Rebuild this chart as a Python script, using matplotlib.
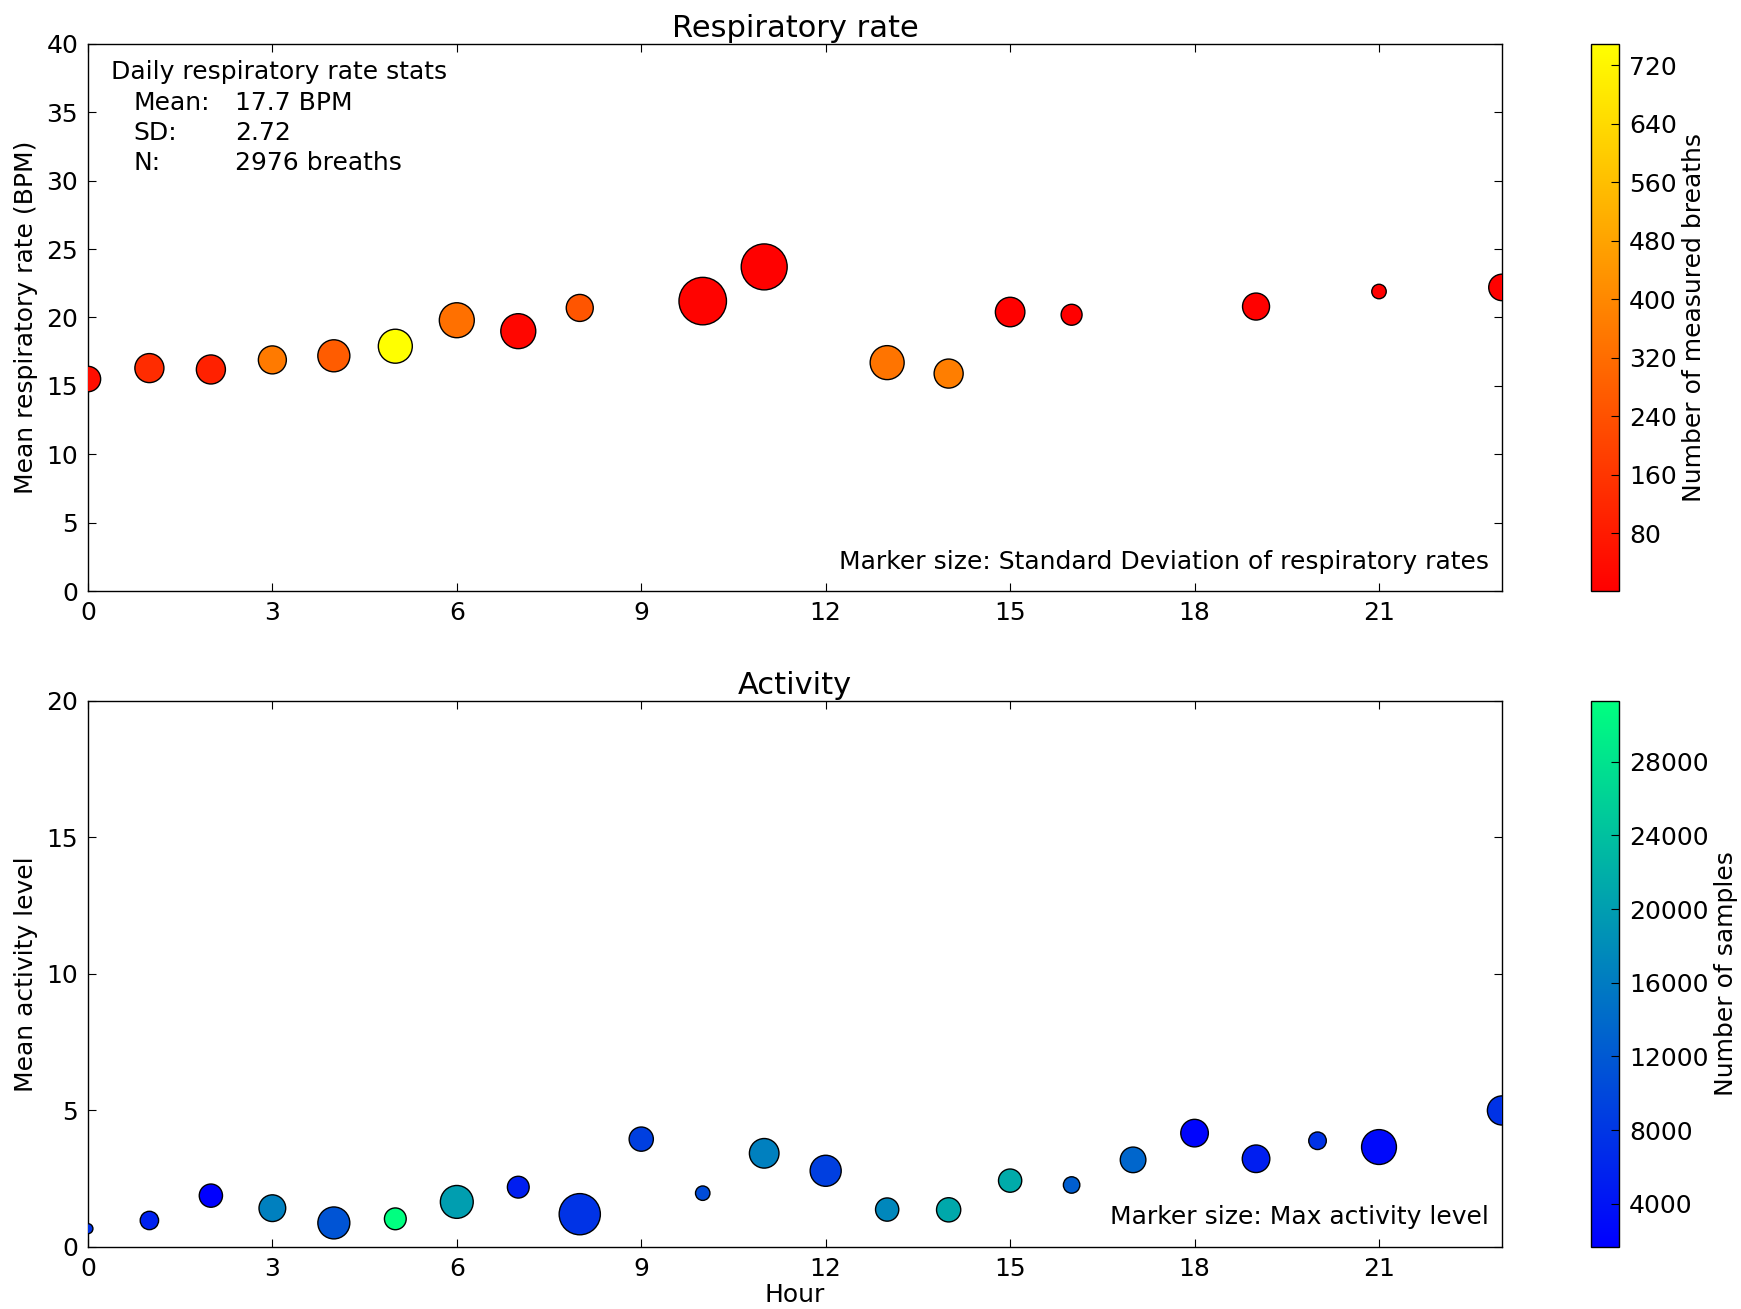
import matplotlib
matplotlib.use("Agg")
import matplotlib.pyplot as plt
import numpy as np

# ---------------- data ----------------
resp_hours = [0, 1, 2, 3, 4, 5, 6, 7, 8, 10, 11, 13, 14, 15, 16, 19, 21, 23]
resp_mean = [15.5, 16.3, 16.2, 16.9, 17.2, 17.9, 19.8, 19.0, 20.7, 21.2, 23.7,
             16.7, 15.9, 20.4, 20.2, 20.8, 21.9, 22.2]
resp_sd = [0.96, 1.25, 1.25, 1.16, 1.52, 1.71, 1.81, 1.81, 1.08, 3.34, 3.13,
           1.71, 1.25, 1.29, 0.65, 1.08, 0.31, 1.04]
resp_count = [40, 130, 100, 360, 270, 749, 330, 20, 250, 10, 5,
              340, 370, 5, 3, 5, 1, 5]

act_hours = [0, 1, 2, 3, 4, 5, 6, 7, 8, 9, 10, 11, 12, 13, 14, 15, 16, 17,
             18, 19, 20, 21, 23]
act_mean = [0.67, 0.97, 1.88, 1.42, 0.88, 1.03, 1.65, 2.19, 1.20, 3.95, 1.97,
            3.43, 2.79, 1.37, 1.36, 2.43, 2.27, 3.19, 4.17, 3.23, 3.89, 3.66, 5.0]
act_max = [2.6, 8.75, 14.0, 18.5, 26.5, 12.3, 28.0, 12.3, 44.0, 15.2, 5.4,
           22.7, 25.0, 14.0, 15.2, 14.0, 7.0, 17.0, 19.7, 19.7, 8.0, 31.5, 22.0]
act_count = [7500, 5500, 1650, 16500, 11400, 31300, 20000, 5200, 7600, 9000,
             10500, 16500, 9000, 17400, 21200, 21500, 12600, 13500, 2200, 5200,
             7500, 2800, 7500]

resp_cbar_ticks = [80, 160, 240, 320, 400, 480, 560, 640, 720]
act_cbar_ticks = [4000, 8000, 12000, 16000, 20000, 24000, 28000]
hour_ticks = [0, 3, 6, 9, 12, 15, 18, 21]

RESP_SIZE_SCALE = 350.0
ACT_SIZE_SCALE = 20.0

FS = 18

# ---------------- style ----------------
plt.rcParams.update({
    "font.family": ["DejaVu Sans"],
    "font.size": FS,
    "xtick.direction": "in",
    "ytick.direction": "in",
    "xtick.top": True,
    "ytick.right": True,
    "xtick.major.size": 6,
    "ytick.major.size": 6,
    "xtick.major.pad": 7,
    "ytick.major.pad": 7,
    "axes.linewidth": 1.0,
})

fig = plt.figure(figsize=(17.41, 13.09), dpi=100)

ax1 = fig.add_axes([0.0505, 0.5485, 0.8122, 0.4179])
cax1 = fig.add_axes([0.9139, 0.5485, 0.0161, 0.4179])
ax2 = fig.add_axes([0.0505, 0.0474, 0.8122, 0.4171])
cax2 = fig.add_axes([0.9139, 0.0474, 0.0161, 0.4171])

# top: respiratory rate
sc1 = ax1.scatter(resp_hours, resp_mean,
                  s=np.array(resp_sd) * RESP_SIZE_SCALE,
                  c=resp_count, cmap="autumn",
                  vmin=min(resp_count), vmax=max(resp_count),
                  edgecolors="black", linewidths=1.0, zorder=3)
ax1.set_xlim(0, 23)
ax1.set_ylim(0, 40)
ax1.set_xticks(hour_ticks)
ax1.set_yticks(range(0, 41, 5))
ax1.set_title("Respiratory rate", fontsize=22, pad=5)
ax1.set_ylabel("Mean respiratory rate (BPM)", labelpad=6)

ax1.text(0.016, 0.949, "Daily respiratory rate stats", transform=ax1.transAxes,
         ha="left", va="center", fontsize=FS)
rows = [("Mean:", "17.7 BPM"), ("SD:", "2.72"), ("N:", "2976 breaths")]
for i, (lab, val) in enumerate(rows):
    yy = 0.893 - i * 0.0555
    ax1.text(0.032, yy, lab, transform=ax1.transAxes, ha="left", va="center",
             fontsize=FS)
    ax1.text(0.104, yy, val, transform=ax1.transAxes, ha="left", va="center",
             fontsize=FS)
ax1.text(0.9906, 0.053, "Marker size: Standard Deviation of respiratory rates",
         transform=ax1.transAxes, ha="right", va="center", fontsize=FS)

cb1 = fig.colorbar(sc1, cax=cax1, ticks=resp_cbar_ticks)
cb1.set_label("Number of measured breaths", fontsize=FS)
cb1.ax.tick_params(direction="in", length=6, labelsize=FS, right=True, left=False)
cb1.outline.set_linewidth(1.0)

# bottom: activity
sc2 = ax2.scatter(act_hours, act_mean,
                  s=np.array(act_max) * ACT_SIZE_SCALE,
                  c=act_count, cmap="winter",
                  vmin=min(act_count), vmax=max(act_count),
                  edgecolors="black", linewidths=1.0, zorder=3)
ax2.set_xlim(0, 23)
ax2.set_ylim(0, 20)
ax2.set_xticks(hour_ticks)
ax2.set_yticks([0, 5, 10, 15, 20])
ax2.set_title("Activity", fontsize=22, pad=5)
ax2.set_ylabel("Mean activity level", labelpad=6)
ax2.set_xlabel("Hour", labelpad=2)
ax2.text(0.9906, 0.055, "Marker size: Max activity level",
         transform=ax2.transAxes, ha="right", va="center", fontsize=FS)

cb2 = fig.colorbar(sc2, cax=cax2, ticks=act_cbar_ticks)
cb2.set_label("Number of samples", fontsize=FS)
cb2.ax.tick_params(direction="in", length=6, labelsize=FS, right=True, left=False)
cb2.outline.set_linewidth(1.0)

fig.savefig("out.png", dpi=100, facecolor="white")
